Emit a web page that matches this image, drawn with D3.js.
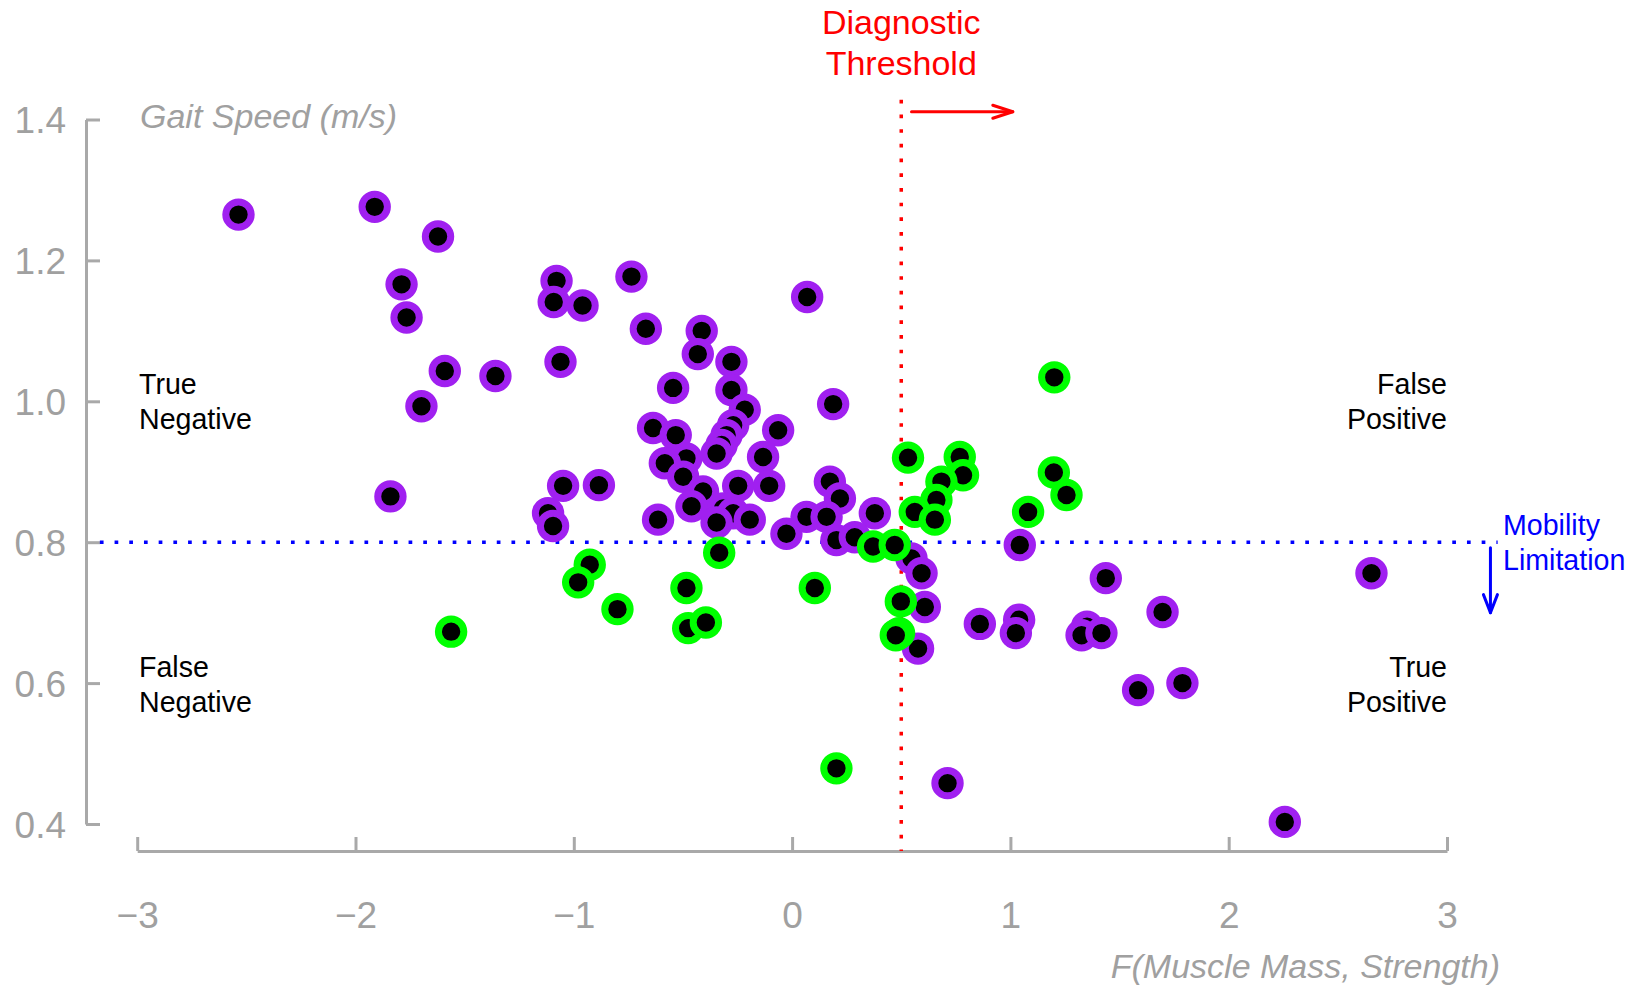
<!DOCTYPE html>
<html>
<head>
<meta charset="utf-8">
<script src="https://cdn.jsdelivr.net/npm/d3@7"></script>
<style>
  body { margin: 0; background: #fff; }
  svg { display: block; }
</style>
</head>
<body>
<svg id="chart" width="1642" height="987"></svg>
<script>
// Axis ticks
const xTicks = [-3, -2, -1, 0, 1, 2, 3];
const yTicks = [0.4, 0.6, 0.8, 1.0, 1.2, 1.4];

// Cut-offs
const diagnosticThreshold = 0.5;   // F(muscle mass, strength)
const mobilityCutoff = 0.8;        // gait speed, m/s

// Participants whose classification agrees with mobility status (true negative / true positive)
const agreeX = [-2.536, -1.912, -1.622, -1.789, -1.766, -1.079, -1.092, -0.960, -1.591, -1.359,
                -1.061, -1.698, -1.840, -0.736, 0.069, -0.670, -0.414, -0.432, -0.278, -0.545,
                -0.278, -0.217, -0.270, -0.300, -0.323, -0.346, -0.064, -0.637, -0.533, -0.133,
                -0.484, -0.583, -0.499, -0.247, -0.105, -0.408, -0.461, -0.316, -0.270, -0.346,
                -0.194, -0.026, 0.066, -1.049, -0.885, -1.118, -1.095, -0.614, 0.173, 0.219,
                0.379, 0.158, 0.203, 0.287, 0.547, 0.593, 1.043, 1.437, 0.608, 0.577,
                0.860, 1.040, 1.025, 1.351, 1.326, 1.417, 1.697, 1.585, 1.788, 2.654,
                2.257, 0.712, 0.188];
const agreeY = [1.265, 1.276, 1.234, 1.166, 1.119, 1.171, 1.141, 1.136, 1.043, 1.036,
                1.056, 0.993, 0.865, 1.177, 1.148, 1.103, 1.100, 1.067, 1.056, 1.019,
                1.016, 0.988, 0.966, 0.952, 0.938, 0.926, 0.959, 0.962, 0.952, 0.921,
                0.919, 0.912, 0.893, 0.880, 0.880, 0.872, 0.851, 0.848, 0.841, 0.828,
                0.832, 0.812, 0.836, 0.880, 0.881, 0.841, 0.823, 0.832, 0.886, 0.862,
                0.841, 0.836, 0.803, 0.807, 0.777, 0.756, 0.796, 0.749, 0.708, 0.649,
                0.684, 0.690, 0.671, 0.680, 0.668, 0.671, 0.701, 0.590, 0.600, 0.756,
                0.403, 0.458, 0.996];

// Participants misclassified (false negative / false positive)
const disagreeX = [-1.562, -0.334, -0.927, -0.980, -0.800, -0.484, -0.476, -0.395, 0.371, 0.470,
                   0.531, 0.768, 0.783, 0.684, 0.661, 0.562, 0.654, 1.199, 1.257, 1.081,
                   1.201, 0.104, 0.498, 0.490, 0.475, 0.203];
const disagreeY = [0.673, 0.785, 0.768, 0.743, 0.705, 0.735, 0.678, 0.686, 0.794, 0.796,
                   0.920, 0.921, 0.895, 0.886, 0.860, 0.843, 0.832, 0.899, 0.867, 0.843,
                   1.034, 0.735, 0.716, 0.671, 0.668, 0.479];

const FONT = '"Liberation Sans", Arial, Helvetica, sans-serif';
const AXIS_GREY = '#a9a9a9';
const LABEL_GREY = '#a0a0a0';
const PURPLE = '#a020f0';
const GREEN = '#00ff00';

const svg = d3.select('#chart');

const x = d3.scaleLinear().domain([-3, 3]).range([137.2, 1447]);
const y = d3.scaleLinear().domain([0.4, 1.4]).range([824, 119.5]);

const yAxisX = 86;     // left axis line position
const xAxisY = 851;    // bottom axis line position

// ---- Y axis (ticks point into the plot) ----
const yAxis = d3.axisLeft(y)
  .tickValues(yTicks)
  .tickFormat(d3.format('.1f'))
  .tickSizeInner(-14)
  .tickSizeOuter(0)
  .tickPadding(20);

const gy = svg.append('g').attr('transform', `translate(${yAxisX},0)`).call(yAxis);
gy.select('.domain').attr('stroke', AXIS_GREY).attr('stroke-width', 3);
gy.selectAll('.tick line').attr('stroke', AXIS_GREY).attr('stroke-width', 3);
gy.selectAll('.tick text')
  .attr('fill', LABEL_GREY)
  .attr('font-family', FONT)
  .attr('font-size', 37)
  .attr('dy', '0.36em');

// ---- X axis (ticks point up) ----
const xAxis = d3.axisBottom(x)
  .tickValues(xTicks)
  .tickFormat(d3.format('d'))
  .tickSizeInner(-14)
  .tickSizeOuter(0)
  .tickPadding(0);

const gx = svg.append('g').attr('transform', `translate(0,${xAxisY})`).call(xAxis);
gx.select('.domain').attr('stroke', AXIS_GREY).attr('stroke-width', 3);
gx.selectAll('.tick line').attr('stroke', AXIS_GREY).attr('stroke-width', 3);
gx.selectAll('.tick text')
  .attr('fill', LABEL_GREY)
  .attr('font-family', FONT)
  .attr('font-size', 37)
  .attr('y', 77)
  .attr('dy', 0);

// ---- Axis titles ----
svg.append('text')
  .attr('x', 140).attr('y', 128)
  .attr('font-family', FONT).attr('font-size', 34).attr('font-style', 'italic')
  .attr('fill', LABEL_GREY)
  .text('Gait Speed (m/s)');

svg.append('text')
  .attr('x', 1500).attr('y', 978)
  .attr('text-anchor', 'end')
  .attr('font-family', FONT).attr('font-size', 34).attr('font-style', 'italic')
  .attr('fill', LABEL_GREY)
  .text('F(Muscle Mass, Strength)');

// ---- Reference lines ----
svg.append('line')
  .attr('x1', x(-3.171)).attr('x2', x(3.232))
  .attr('y1', y(mobilityCutoff)).attr('y2', y(mobilityCutoff))
  .attr('stroke', '#0000ff').attr('stroke-width', 3.5)
  .attr('stroke-dasharray', '3.7,11');

svg.append('line')
  .attr('x1', x(diagnosticThreshold)).attr('x2', x(diagnosticThreshold))
  .attr('y1', y(1.428)).attr('y2', xAxisY)
  .attr('stroke', '#ff0000').attr('stroke-width', 3.5)
  .attr('stroke-dasharray', '3.7,11');

// ---- Points ----
const agree = agreeX.map((v, i) => ({ x: v, y: agreeY[i] }));
const disagree = disagreeX.map((v, i) => ({ x: v, y: disagreeY[i] }));

function drawPoints(data, colour) {
  svg.append('g').selectAll('circle')
    .data(data)
    .join('circle')
    .attr('cx', d => x(d.x))
    .attr('cy', d => y(d.y))
    .attr('r', 12.7)
    .attr('fill', '#000')
    .attr('stroke', colour)
    .attr('stroke-width', 7);
}
drawPoints(agree, PURPLE);
drawPoints(disagree, GREEN);

// ---- Arrows ----
function arrow(x1, y1, x2, y2, colour, headLen, headHalf) {
  const g = svg.append('g').attr('stroke', colour).attr('stroke-width', 3)
    .attr('fill', 'none').attr('stroke-linecap', 'round').attr('stroke-linejoin', 'round');
  g.append('line').attr('x1', x1).attr('y1', y1).attr('x2', x2).attr('y2', y2);
  const ang = Math.atan2(y2 - y1, x2 - x1);
  const ux = Math.cos(ang), uy = Math.sin(ang);
  const bx = x2 - ux * headLen, by = y2 - uy * headLen;
  g.append('path').attr('d',
    `M${bx - uy * headHalf},${by + ux * headHalf}L${x2},${y2}L${bx + uy * headHalf},${by - ux * headHalf}`);
}
arrow(x(0.547), y(1.411), x(1.011), y(1.411), '#ff0000', 20, 6.5);
arrow(x(3.199), y(0.792), x(3.199), y(0.700), '#0000ff', 18, 7);

// ---- Annotation text ----
function multiline(lines, xPos, yPos, anchor, colour, size, lead) {
  const t = svg.append('text')
    .attr('font-family', FONT).attr('font-size', size)
    .attr('fill', colour).attr('text-anchor', anchor);
  lines.forEach((s, i) => t.append('tspan').attr('x', xPos).attr('y', yPos + i * lead).text(s));
}

multiline(['Diagnostic', 'Threshold'], x(diagnosticThreshold), 33.5, 'middle', '#ff0000', 34, 41);
multiline(['Mobility', 'Limitation'], 1503, 535, 'start', '#0000ff', 28.6, 35);

multiline(['True', 'Negative'], 139, 393.5, 'start', '#000', 28.6, 35);
multiline(['False', 'Positive'], 1447, 393.5, 'end', '#000', 28.6, 35);
multiline(['False', 'Negative'], 139, 676.5, 'start', '#000', 28.6, 35);
multiline(['True', 'Positive'], 1447, 676.5, 'end', '#000', 28.6, 35);
</script>
</body>
</html>
